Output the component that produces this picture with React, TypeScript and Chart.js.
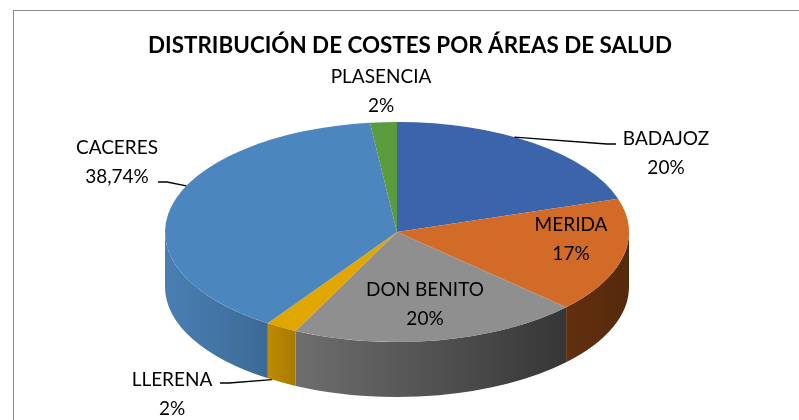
import React, { useEffect, useRef } from 'react';
import { Chart, registerables } from 'chart.js';

Chart.register(...registerables);

// ---- data ----
const categories = ['BADAJOZ', 'MERIDA', 'DON BENITO', 'LLERENA', 'CACERES', 'PLASENCIA'];
const values = [20.1, 16.9, 20.2, 2.2, 38.74, 1.86];
const percentLabels = ['20%', '17%', '20%', '2%', '38,74%', '2%'];
const chartTitle = 'DISTRIBUCIÓN DE COSTES POR ÁREAS DE SALUD';

// ---- styles ----
const topColors = ['#3B64AB', '#D26B27', '#8F8F8F', '#E2A600', '#4C86BF', '#5C9B3D'];
const sideLight = ['#2F528E', '#62300F', '#6E6E6E', '#BE8B00', '#4A7FB3', '#4A7D31'];
const sideDark = ['#284784', '#55290C', '#363636', '#A87A00', '#3C6A96', '#3F6A2A'];

const FONT = 'Lato, "Open Sans", sans-serif';
const RX = 232; // horizontal radius of projected pie
const DEPTH = 55; // extrusion thickness

// label placement relative to pie centre (px); leader: end point relative to centre, anchor fraction along slice
const labelLayout: { dx: number; dy: number; leader?: { ex: number; ey: number; at: number; base?: boolean } }[] = [
  { dx: 269, dy: -93, leader: { ex: 219, ey: -88, at: 0.42 } },
  { dx: 174, dy: -7 },
  { dx: 28, dy: 58 },
  { dx: -225, dy: 148, leader: { ex: -177, ey: 151, at: 0.85, base: true } },
  { dx: -280, dy: -84, leader: { ex: -239, ey: -50, at: 0.58 } },
  { dx: -16, dy: -155 },
];

const pie3d = {
  id: 'pie3d',
  beforeDraw(chart: any) {
    const ctx = chart.ctx;
    ctx.save();
    ctx.strokeStyle = '#8C8C8C';
    ctx.lineWidth = 1;
    ctx.strokeRect(13.5, 10.5, 1200, 1000);
    ctx.restore();
  },
  beforeDatasetsDraw(chart: any) {
    const ctx = chart.ctx;
    const meta = chart.getDatasetMeta(0);
    const arcs = meta.data;
    if (!arcs.length) return;
    const { x: cx, y: cy, outerRadius: R } = arcs[0].getProps(['x', 'y', 'outerRadius'], true);
    ctx.save();
    ctx.translate(cx, cy);
    ctx.scale(RX / R, 1);
    ctx.translate(-cx, -cy);
    // side walls (front half only: canvas angles 0..PI)
    arcs.forEach((el: any, i: number) => {
      const p = el.getProps(['startAngle', 'endAngle'], true);
      const a = Math.max(p.startAngle, 0);
      const b = Math.min(p.endAngle, Math.PI);
      if (b <= a) return;
      const xa = cx + R * Math.cos(a);
      const xb = cx + R * Math.cos(b);
      const x0 = Math.min(xa, xb);
      const x1 = Math.max(xa, xb);
      const g = ctx.createLinearGradient(x0, 0, x1 + 0.01, 0);
      g.addColorStop(0, sideLight[i]);
      g.addColorStop(1, sideDark[i]);
      ctx.beginPath();
      ctx.arc(cx, cy, R, a, b, false);
      ctx.arc(cx, cy + DEPTH, R, b, a, true);
      ctx.closePath();
      ctx.fillStyle = g;
      ctx.fill();
    });
  },
  afterDatasetsDraw(chart: any) {
    chart.ctx.restore();
  },
  afterDraw(chart: any) {
    const ctx = chart.ctx;
    const arcs = chart.getDatasetMeta(0).data;
    if (!arcs.length) return;
    const { x: cx, y: cy, outerRadius: R } = arcs[0].getProps(['x', 'y', 'outerRadius'], true);
    const ry = R;
    ctx.save();
    ctx.fillStyle = '#000';
    ctx.textAlign = 'center';
    ctx.textBaseline = 'middle';
    ctx.font = `bold 22.4px ${FONT}`;
    ctx.fillText(chartTitle, cx + 13, 46);

    ctx.strokeStyle = '#000';
    ctx.lineWidth = 1.3;
    ctx.font = `19px ${FONT}`;
    arcs.forEach((el: any, i: number) => {
      const L = labelLayout[i];
      const lx = cx + L.dx;
      const ly = cy + L.dy;
      ctx.fillText(categories[i], lx, ly);
      ctx.fillText(percentLabels[i], lx, ly + 29);
      if (L.leader) {
        const p = el.getProps(['startAngle', 'endAngle'], true);
        const ang = p.startAngle + (p.endAngle - p.startAngle) * L.leader.at;
        const ax = cx + RX * Math.cos(ang);
        const ay = cy + ry * Math.sin(ang) + (L.leader.base ? DEPTH : 0);
        const ex = cx + L.leader.ex;
        const ey = cy + L.leader.ey;
        const dir = ax > ex ? 1 : -1;
        ctx.beginPath();
        ctx.moveTo(ax, ay);
        ctx.lineTo(ex + dir * 9, ey);
        ctx.lineTo(ex, ey);
        ctx.stroke();
      }
    });
    ctx.restore();
  },
};

export default function App() {
  const ref = useRef<HTMLCanvasElement | null>(null);
  useEffect(() => {
    if (!ref.current) return;
    const chart = new Chart(ref.current, {
      type: 'pie',
      data: {
        labels: categories,
        datasets: [
          {
            data: values,
            backgroundColor: topColors,
            borderWidth: 0,
            clip: false as any,
          },
        ],
      },
      options: {
        responsive: false,
        animation: false,
        events: [],
        rotation: 0,
        layout: { padding: { left: 287, right: 292, top: 122, bottom: 78 } },
        plugins: {
          legend: { display: false },
          tooltip: { enabled: false },
          title: { display: false },
        },
      },
      plugins: [pie3d],
    });
    return () => chart.destroy();
  }, []);
  return (
    <div style={{ position: 'fixed', left: 0, top: 0, width: 799, height: 420, background: '#fff' }}>
      <canvas ref={ref} width={799} height={420} style={{ display: 'block' }} />
    </div>
  );
}
